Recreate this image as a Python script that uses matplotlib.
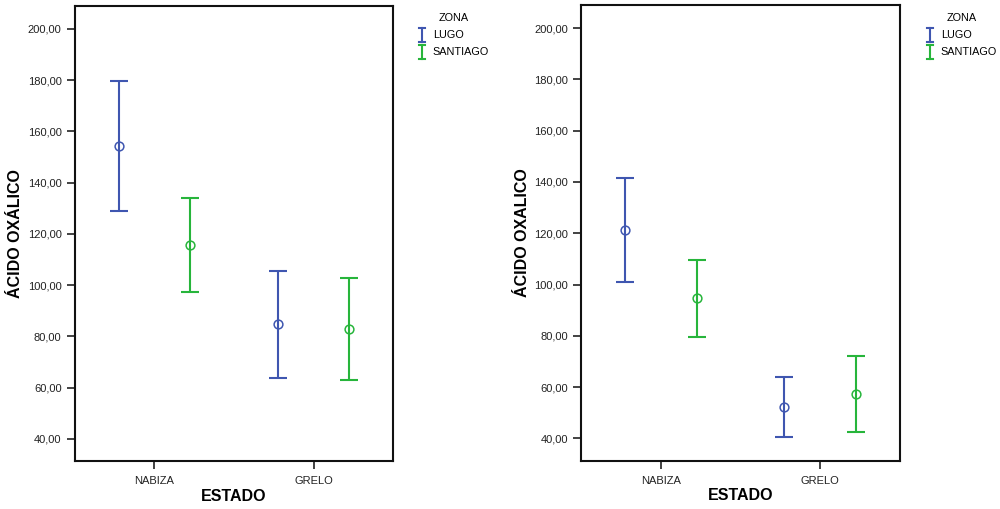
import numpy as np
import matplotlib
matplotlib.use('Agg')
from matplotlib import pyplot as plt
from matplotlib.lines import Line2D
from matplotlib.legend_handler import HandlerBase
from matplotlib.ticker import FuncFormatter

plt.rcParams['font.family'] = ['Liberation Sans', 'DejaVu Sans']

# Data: means and error bar limits
estados = ['NABIZA', 'GRELO']
zonas = ['LUGO', 'SANTIAGO']

left_mean_lugo = [154.2, 84.6]
left_low_lugo = [129.0, 63.8]
left_high_lugo = [179.7, 105.4]
left_mean_sant = [115.6, 82.8]
left_low_sant = [97.3, 62.8]
left_high_sant = [133.9, 102.8]

right_mean_lugo = [121.3, 52.3]
right_low_lugo = [100.8, 40.5]
right_high_lugo = [141.6, 64.1]
right_mean_sant = [94.7, 57.5]
right_low_sant = [79.6, 42.6]
right_high_sant = [109.6, 72.3]

yticks = [40, 60, 80, 100, 120, 140, 160, 180, 200]

blue = '#3F56B0'
green = '#27B53B'


# legend symbol: a small vertical error bar with caps
class ErrHandler(HandlerBase):
    def create_artists(self, legend, orig_handle, xdescent, ydescent,
                       width, height, fontsize, trans):
        c = orig_handle.get_color()
        cx = width / 2 - xdescent
        y0 = -ydescent - 2.4
        y1 = height - ydescent + 2.0
        w = 2.2
        arts = [Line2D([cx, cx], [y0, y1], color=c, lw=1.5, transform=trans),
                Line2D([cx - w, cx + w], [y0, y0], color=c, lw=1.5, transform=trans),
                Line2D([cx - w, cx + w], [y1, y1], color=c, lw=1.5, transform=trans)]
        return arts


fig = plt.figure(figsize=(10, 5.09), dpi=100)


def draw_panel(rect, ylabel, series, legend_xy):
    ax = fig.add_axes(rect)
    x = np.arange(len(estados))
    offsets = [-0.225, 0.225]
    for (mean, low, high), color, off in zip(series, [blue, green], offsets):
        mean = np.array(mean)
        err = [mean - np.array(low), np.array(high) - mean]
        ax.errorbar(x + off, mean, yerr=err, fmt='none', ecolor=color,
                    elinewidth=1.5, capsize=6.7, capthick=1.5)
        ax.plot(x + off, mean, 'o', mfc='none', mec=color, ms=6.3, mew=1.1)
    ax.set_xlim(-0.5, 1.5)
    ax.set_ylim(31.2, 209)
    ax.set_xticks(x)
    ax.set_xticklabels(estados)
    ax.set_yticks(yticks)
    ax.yaxis.set_major_formatter(FuncFormatter(lambda v, p: '{:.2f}'.format(v).replace('.', ',')))
    ax.tick_params(axis='both', labelsize=8, length=6, width=1.2, color='#222222',
                   labelcolor='#222222')
    ax.tick_params(axis='x', pad=4.5)
    for s in ax.spines.values():
        s.set_linewidth(1.5)
        s.set_color('#111111')
    ax.set_xlabel('ESTADO', fontsize=11.5, fontweight='bold', labelpad=2)
    ax.set_ylabel(ylabel, fontsize=11.5, fontweight='bold', labelpad=3)
    proxies = [Line2D([], [], color=blue), Line2D([], [], color=green)]
    fig.legend(proxies, zonas, title='ZONA', loc='upper left',
               bbox_to_anchor=legend_xy, bbox_transform=fig.transFigure,
               handler_map={Line2D: ErrHandler()},
               frameon=False, fontsize=7.8, title_fontsize=7.8,
               handlelength=0.55, handletextpad=0.75, labelspacing=0.64,
               borderpad=0.8, borderaxespad=0)
    return ax


draw_panel([0.0747, 0.0937, 0.3186, 0.895], 'ÁCIDO OXÁLICO',
           [(left_mean_lugo, left_low_lugo, left_high_lugo),
            (left_mean_sant, left_low_sant, left_high_sant)],
           (0.410, 0.9906))
draw_panel([0.581, 0.0943, 0.319, 0.896], 'ÁCIDO OXALICO',
           [(right_mean_lugo, right_low_lugo, right_high_lugo),
            (right_mean_sant, right_low_sant, right_high_sant)],
           (0.918, 0.9906))

fig.savefig('out.png', dpi=100)
